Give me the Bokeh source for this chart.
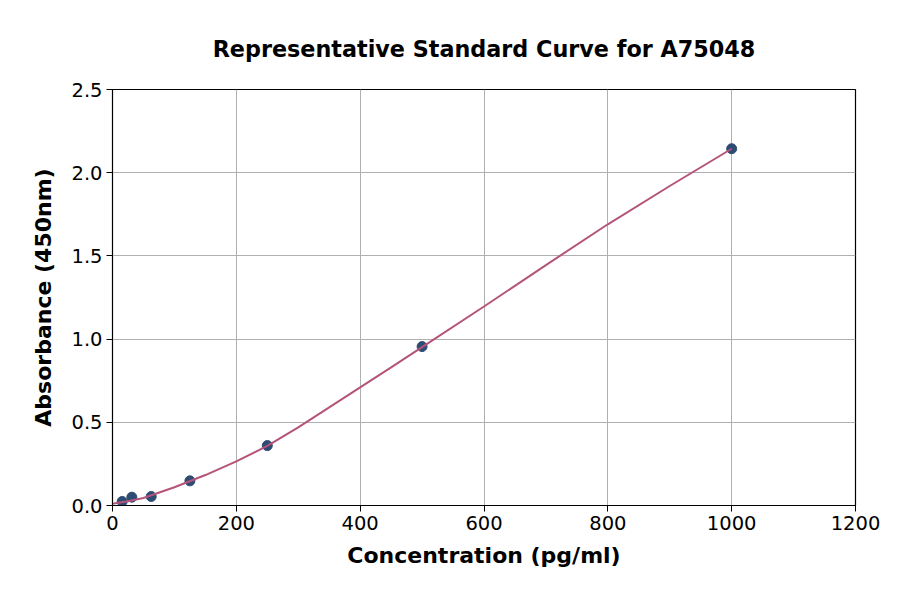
from bokeh.plotting import figure
from bokeh.models import Range1d, FixedTicker, PrintfTickFormatter
from bokeh.embed import file_html
from bokeh.resources import INLINE

# Standard points
conc = [15.6, 31.25, 62.5, 125, 250, 500, 1000]
absorb = [0.024, 0.05, 0.054, 0.148, 0.36, 0.955, 2.144]

# Fitted curve
curve_x = [0, 25, 50, 100, 150, 200, 250, 300, 350, 400, 450, 500, 600, 700, 800, 900, 1000]
curve_y = [0.01, 0.025, 0.045, 0.11, 0.183, 0.265, 0.358, 0.47, 0.59, 0.71, 0.83, 0.952, 1.196, 1.445, 1.69, 1.92, 2.144]

x_ticks = [0, 200, 400, 600, 800, 1000, 1200]
y_ticks = [0.0, 0.5, 1.0, 1.5, 2.0, 2.5]

FONT = "DejaVu Sans"

p = figure(width=884, height=578, output_backend="svg", toolbar_location=None,
           x_range=Range1d(0, 1200), y_range=Range1d(0, 2.5),
           min_border_left=112, min_border_right=29, min_border_top=89, min_border_bottom=73)

p.title.text = "Representative Standard Curve for A75048"
p.title.text_font = FONT
p.title.text_font_size = "22.3px"
p.title.text_font_style = "bold"
p.title.text_color = "black"
p.title.align = "center"
p.title.standoff = 56

p.outline_line_color = "black"
p.outline_line_width = 1.2
p.outline_line_alpha = 1

for ax in (p.xaxis[0], p.yaxis[0]):
    ax.axis_label_text_font = FONT
    ax.axis_label_text_font_size = "22px"
    ax.axis_label_text_font_style = "bold"
    ax.axis_label_text_color = "black"
    ax.major_label_text_font = FONT
    ax.major_label_text_font_size = "19.5px"
    ax.major_label_text_color = "black"
    ax.axis_line_color = "black"
    ax.major_tick_line_color = "black"
    ax.major_tick_out = 6
    ax.major_tick_in = 0
    ax.minor_tick_line_color = None

p.xaxis.axis_label = "Concentration (pg/ml)"
p.yaxis.axis_label = "Absorbance (450nm)"
p.xaxis.ticker = FixedTicker(ticks=x_ticks)
p.yaxis.ticker = FixedTicker(ticks=y_ticks)
p.yaxis.formatter = PrintfTickFormatter(format="%.1f")
p.xaxis.axis_label_standoff = 10
p.yaxis.axis_label_standoff = 12
p.xaxis.major_label_standoff = 4
p.yaxis.major_label_standoff = 4

p.grid.grid_line_color = "#b0b0b0"
p.grid.grid_line_width = 1

p.scatter(conc, absorb, size=10, color="#2d4b73")
p.line(curve_x, curve_y, line_color="#b5547a", line_width=2)

open("out.html", "w").write(file_html(p, INLINE))
